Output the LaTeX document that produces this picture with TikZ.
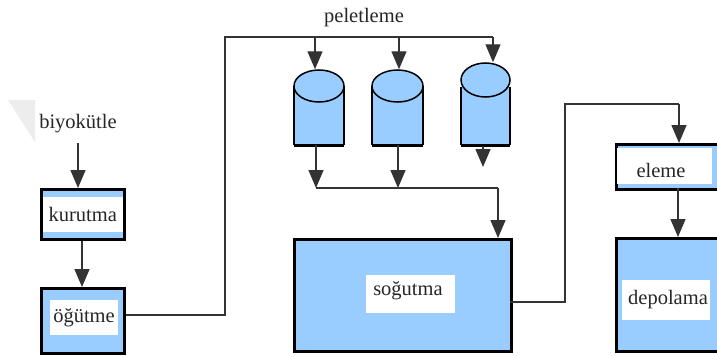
\documentclass[tikz,border=0pt]{standalone}
\usepackage{fontspec}
\setmainfont{Liberation Serif}
\usetikzlibrary{arrows.meta,shapes.geometric,calc}
\definecolor{procblue}{HTML}{99CCFF}
\definecolor{inkline}{HTML}{333333}
\tikzset{
  procbox/.style={draw=black, line width=2.6pt, fill=procblue, rectangle, inner sep=0pt, anchor=north west},
  lbl/.style={fill=white, rectangle, inner sep=0pt, font=\fontsize{20.5}{24}\selectfont, text=black!85},
  plain/.style={inner sep=0pt, font=\fontsize{20.5}{24}\selectfont, text=black!85},
  conn/.style={draw=inkline, line width=1.4pt},
  flow/.style={conn, -{Triangle[width=15pt,length=18pt]}},
  tankbody/.style={fill=procblue, rectangle, inner sep=0pt, anchor=north west},
  tanktop/.style={draw=black, line width=1.5pt, fill=procblue, ellipse, inner sep=0pt}
}
\begin{document}
\begin{tikzpicture}[x=1pt,y=-1pt]
\clip (0,0) rectangle (717,356);
\fill[white] (0,0) rectangle (717,356);

% faint corner mark
\fill[gray!14] (8,100) -- (35,100) -- (35,142) -- cycle;

% input label
\node[plain] (bio) at (78,124) {biyokütle};

% drying
\node[procbox, minimum width=83pt, minimum height=50pt] (kur) at (40,188) {};
\node[lbl, minimum width=80pt, minimum height=35pt] (kurl) at ($(kur.center)+(0,0.5)$) {kurutma};

% grinding
\node[procbox, minimum width=83pt, minimum height=65pt] (ogu) at (40,287) {};
\node[lbl, minimum width=68pt, minimum height=35pt] (ogul) at (84,317.5) {öğütme};

% pelletizing label and tanks
\node[plain] (pel) at (364,18) {peletleme};

\node[tankbody, minimum width=50pt, minimum height=59pt] (c1b) at (294,86) {};
\node[tankbody, minimum width=51pt, minimum height=59pt] (c2b) at (372,86) {};
\node[tankbody, minimum width=49pt, minimum height=58pt] (c3b) at (461,87) {};
\foreach \c in {c1b,c2b,c3b}{
  \draw[black, line width=2pt] (\c.north west) -- (\c.south west);
  \draw[black, line width=2pt] (\c.north east) -- (\c.south east);
  \draw[black, line width=3pt] (\c.south west) -- (\c.south east);
}
\node[tanktop, minimum width=50pt, minimum height=32pt] (c1t) at (319,86) {};
\node[tanktop, minimum width=51pt, minimum height=32pt] (c2t) at (397.5,86) {};
\node[tanktop, minimum width=49pt, minimum height=34pt] (c3t) at (485.5,80) {};

% cooling
\node[procbox, minimum width=217pt, minimum height=112pt] (sog) at (293,238) {};
\node[lbl, minimum width=89pt, minimum height=38pt] (sogl) at (410.5,294) {};
\node[plain] (sogt) at (408,291) {soğutma};

% screening
\node[procbox, minimum width=140pt, minimum height=45pt] (ele) at (615,143) {};
\node[lbl, minimum width=95pt, minimum height=36pt] (elel) at (664.5,166) {};
\node[plain] (elet) at (661,170) {eleme};

% storage
\node[procbox, minimum width=140pt, minimum height=113pt] (dep) at (615,237) {};
\node[lbl, minimum width=88pt, minimum height=40pt] (depl) at (666,300) {};
\node[plain] (dept) at (668,300) {depolama};

% routing points
\coordinate (a0) at (78,143);
\coordinate (k0) at (82,238);
\coordinate (g1) at (225,315);
\coordinate (g2) at (225,37);
\coordinate (b1) at (315,37);
\coordinate (b2) at (399,37);
\coordinate (b3) at (493,37);
\coordinate (j1) at (316,188);
\coordinate (j2) at (398,188);
\coordinate (j3) at (498,188);
\coordinate (c3o) at (483,146);
\coordinate (c3e) at (483,167);
\coordinate (s1) at (510,302);
\coordinate (r1) at (565,302);
\coordinate (r2) at (565,104);
\coordinate (r3) at (679,104);
\coordinate (e1) at (678,188);

% connectors
\draw[flow] (a0) -- (a0 |- kur.north);
\draw[flow] (k0 |- kur.south) -- (k0 |- ogu.north);
\draw[conn] (ogu.east |- g1) -- (g1) -- (g2) -- (b3);
\draw[flow] (b1) -- (b1 |- c1t.north);
\draw[flow] (b2) -- (b2 |- c2t.north);
\draw[flow] (b3) -- (b3 |- c3t.north);
\draw[flow] (j1 |- c1b.south) -- (j1);
\draw[flow] (j2 |- c2b.south) -- (j2);
\draw[flow] (c3o) -- (c3e);
\draw[conn] (j1) -- (j3);
\draw[flow] (j3) -- (j3 |- sog.north);
\draw[conn] (s1) -- (r1) -- (r2) -- (r3);
\draw[flow] (r3) -- (r3 |- ele.north);
\draw[flow] (e1) -- (e1 |- dep.north);
\end{tikzpicture}
\end{document}
